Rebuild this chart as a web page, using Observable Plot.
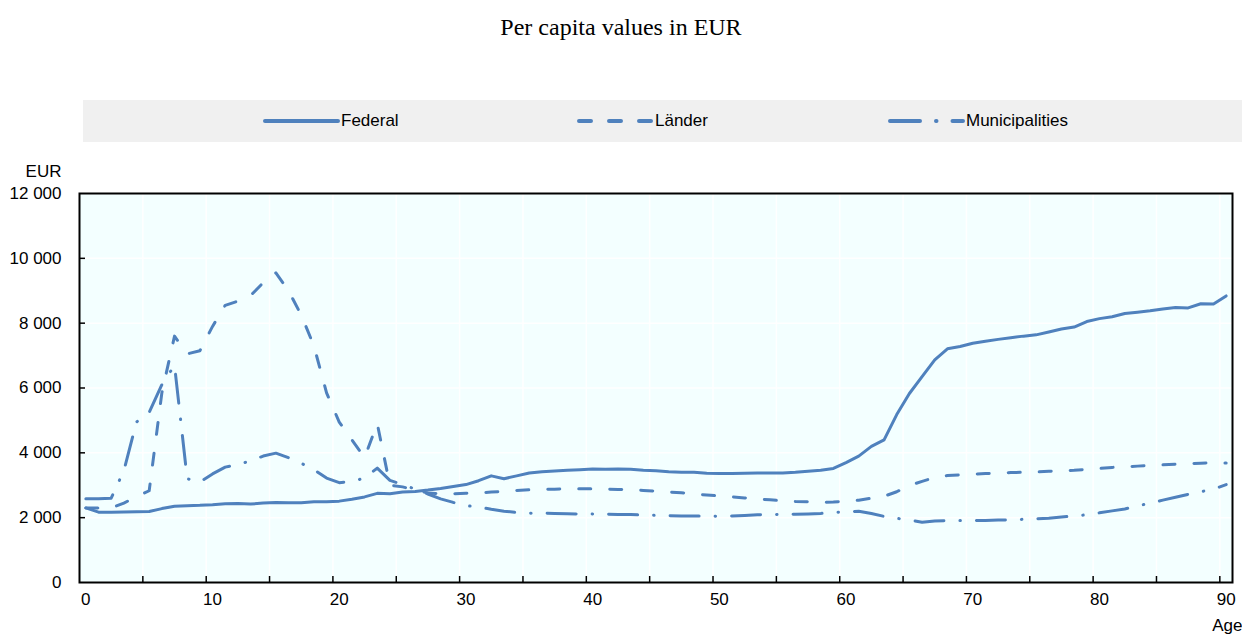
<!DOCTYPE html>
<html>
<head>
<meta charset="utf-8">
<script src="https://cdn.jsdelivr.net/npm/d3@7"></script>
<script src="https://cdn.jsdelivr.net/npm/@observablehq/plot@0.6"></script>
<style>
  body { margin: 0; background: #ffffff; }
  #root { position: relative; width: 1242px; height: 634px; overflow: hidden; }
  #title { position: absolute; left: 0; top: 14px; width: 1242px; text-align: center;
           font-family: "Liberation Serif", "Times New Roman", serif; font-size: 24px; color: #000; }
  #legend { position: absolute; left: 83px; top: 100px; width: 1159px; height: 42px; background: #f0f0f0; }
  .item { position: absolute; top: 0; height: 42px; display: flex; align-items: center;
          font-family: "Liberation Sans", Arial, sans-serif; font-size: 17px; color: #000; }
  .item svg { margin-right: 1px; }
  #chart { position: absolute; left: 0; top: 150px; }
</style>
</head>
<body>
<div id="root">
  <div id="title"></div>
  <div id="legend"></div>
  <div id="chart"></div>
</div>
<script>
// ---- data ----
const ages = [0,1,2,3,4,5,6,7,8,9,10,11,12,13,14,15,16,17,18,19,20,21,22,23,24,25,26,27,28,29,30,
  31,32,33,34,35,36,37,38,39,40,41,42,43,44,45,46,47,48,49,50,51,52,53,54,55,56,57,58,59,60,
  61,62,63,64,65,66,67,68,69,70,71,72,73,74,75,76,77,78,79,80,81,82,83,84,85,86,87,88,89,90];

const federal = [2300,2170,2170,2175,2180,2190,2280,2350,2370,2380,
  2400,2430,2440,2420,2450,2470,2460,2460,2490,2490,
  2510,2570,2640,2750,2740,2790,2810,2850,2900,2960,
  3020,3140,3290,3200,3290,3380,3420,3440,3460,3480,
  3500,3490,3500,3490,3460,3450,3420,3400,3400,3370,
  3360,3360,3370,3380,3380,3380,3400,3430,3460,3520,
  3700,3900,4200,4400,5180,5830,6350,6870,7210,7280,
  7380,7440,7500,7550,7600,7640,7730,7820,7880,8050,
  8140,8200,8300,8340,8380,8440,8480,8470,8600,8590,
  8840];

const laender = [2300,2300,2300,2450,2650,2830,5850,7600,7050,7150,
  7900,8550,8680,8850,9250,9550,9000,8250,7300,5850,
  4950,4400,3850,4900,3000,2950,2850,2760,2740,2740,
  2750,2760,2790,2810,2840,2860,2870,2880,2890,2890,
  2890,2880,2870,2860,2840,2820,2790,2770,2730,2700,
  2670,2640,2610,2580,2550,2520,2500,2490,2470,2480,
  2510,2540,2600,2660,2800,2990,3120,3240,3300,3320,
  3340,3360,3370,3390,3400,3410,3430,3450,3460,3490,
  3520,3550,3570,3590,3610,3630,3650,3670,3680,3690,
  3690];

const municipalities = [2580,2580,2600,3450,4950,5250,6100,6700,3200,3100,
  3350,3560,3640,3750,3900,3990,3850,3680,3480,3220,
  3080,3120,3220,3530,3150,3020,2880,2730,2580,2470,
  2370,2330,2260,2200,2160,2140,2135,2130,2120,2115,
  2110,2110,2100,2095,2080,2070,2060,2050,2050,2050,
  2045,2050,2070,2090,2095,2100,2105,2115,2130,2160,
  2180,2200,2130,2040,1980,1930,1860,1900,1910,1910,
  1910,1915,1925,1930,1950,1965,1985,2020,2050,2090,
  2150,2210,2270,2360,2450,2540,2630,2720,2800,2880,
  3020];

const seriesNames = ["Federal", "Länder", "Municipalities"];
const xLabelTicks = [0,10,20,30,40,50,60,70,80,90];
const yTicks = [0,2000,4000,6000,8000,10000,12000];
const titleText = "Per capita values in EUR";
const yUnit = "EUR";
const xUnit = "Age";

// ---- styles ----
const blue = "#4f81bd";
const dashes = [null, "12,19", "29,16,0.5,16"];
const series = [federal, laender, municipalities];

const fmt = d => d3.format(",")(d).replace(/,/g, " ");
const boundaryTicks = d3.range(4.5, 90, 5);

// legend
const legend = document.getElementById("legend");
const legendLeft = [263, 577, 888];
seriesNames.forEach((name, i) => {
  const item = document.createElement("div");
  item.className = "item";
  item.style.left = (legendLeft[i] - 83) + "px";
  const dash = i === 0 ? "" : (i === 1 ? 'stroke-dasharray="12,18"' : 'stroke-dasharray="30,16,0.5,16"');
  item.innerHTML = `<svg width="77" height="10"><line x1="2" y1="5" x2="75" y2="5" stroke="${blue}" stroke-width="4" stroke-linecap="round" ${dash}/></svg><span>${name}</span>`;
  legend.appendChild(item);
});
document.getElementById("title").textContent = titleText;

const lineMarks = series.map((vals, i) =>
  Plot.line(ages, {x: d => d, y: (d, j) => vals[j], stroke: blue, strokeWidth: 3,
    strokeDasharray: dashes[i], strokeLinecap: "round", strokeLinejoin: "round"}));

const chart = Plot.plot({
  width: 1242,
  height: 484,
  marginTop: 43,
  marginBottom: 52,
  marginLeft: 79,
  marginRight: 10,
  x: {domain: [-0.5, 90.5]},
  y: {domain: [0, 12000]},
  style: {fontFamily: "'Liberation Sans',Arial,sans-serif", fontSize: "17px", color: "#000", background: "transparent", overflow: "visible"},
  marks: [
    Plot.frame({fill: "#f3ffff", stroke: null}),
    Plot.gridX(boundaryTicks, {stroke: "#ffffff", strokeOpacity: 1, strokeWidth: 1.5}),
    Plot.gridY(yTicks, {stroke: "#ffffff", strokeOpacity: 1, strokeWidth: 1.5}),
    ...lineMarks,
    Plot.axisX(boundaryTicks, {tickSize: 6, dy: -6, tickFormat: () => "", label: null, strokeWidth: 1.5}),
    Plot.axisX(xLabelTicks, {tickSize: 0, tickPadding: 10, label: null}),
    Plot.axisY(yTicks.slice(1, -1), {tickSize: 6, dx: 6, tickFormat: () => "", label: null, strokeWidth: 1.5}),
    Plot.axisY(yTicks, {tickSize: 0, tickPadding: 18, tickFormat: fmt, label: null}),
    Plot.frame({stroke: "#000", strokeWidth: 2}),
    Plot.text([yUnit], {text: d => d, frameAnchor: "top-left", lineAnchor: "middle", dx: -18, dy: -22, textAnchor: "end"}),
    Plot.text([xUnit], {text: d => d, frameAnchor: "bottom-right", lineAnchor: "middle", dx: 10, dy: 43, textAnchor: "end"})
  ]
});
document.getElementById("chart").appendChild(chart);
</script>
</body>
</html>
